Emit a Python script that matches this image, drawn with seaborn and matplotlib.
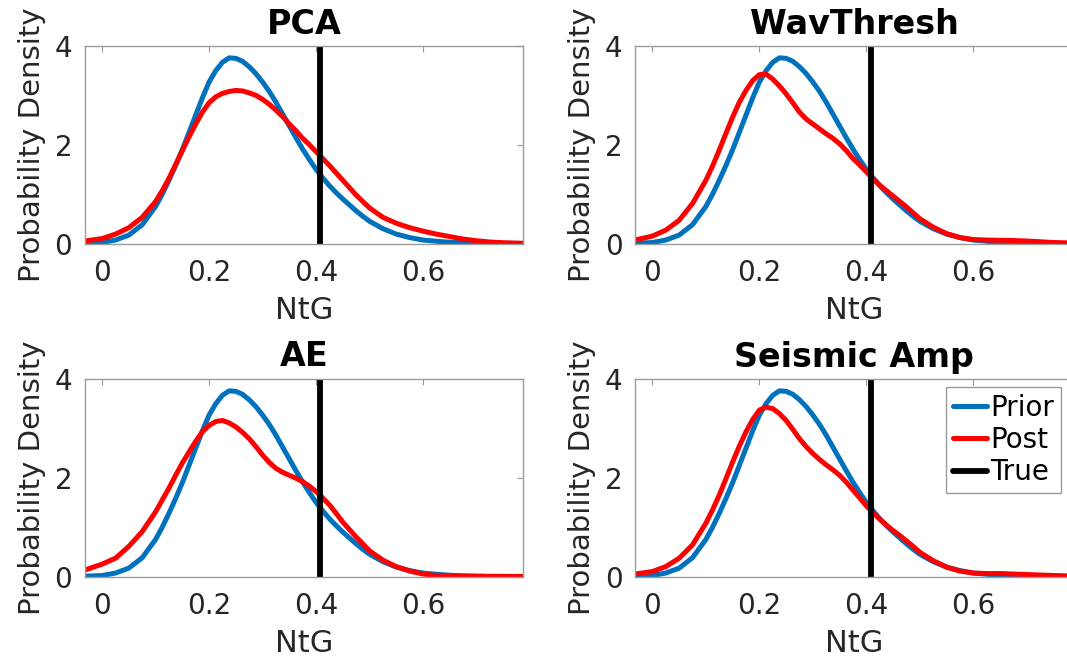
import matplotlib
matplotlib.use("Agg")
import matplotlib.pyplot as plt
import seaborn as sns
import pandas as pd

# ---------------- data ----------------
ntg_grid = [-0.0325, 0.0, 0.025, 0.05, 0.075,
            0.1, 0.1125, 0.125, 0.1375, 0.15, 0.1625, 0.175, 0.1875, 0.2,
            0.2125, 0.225, 0.2375, 0.25, 0.2625, 0.275, 0.2875, 0.3, 0.3125,
            0.325, 0.3375, 0.35, 0.3625, 0.375, 0.3875, 0.4, 0.4125, 0.425,
            0.4375, 0.45, 0.4625, 0.475, 0.4875, 0.5,
            0.525, 0.55, 0.575, 0.6, 0.625, 0.65, 0.675, 0.7, 0.725, 0.75,
            0.7868]

prior_density = [0.005, 0.02, 0.07, 0.17, 0.38,
                 0.75, 1.00, 1.28, 1.58, 1.90, 2.25, 2.60, 2.95, 3.27,
                 3.50, 3.67, 3.76, 3.75, 3.69, 3.58, 3.44, 3.27, 3.08,
                 2.86, 2.62, 2.38, 2.14, 1.91, 1.70, 1.50, 1.33, 1.17,
                 1.03, 0.90, 0.78, 0.66, 0.55, 0.45,
                 0.30, 0.19, 0.12, 0.07, 0.045, 0.025, 0.015, 0.01, 0.005, 0.003,
                 0.0]

post_pca = [0.05, 0.10, 0.19, 0.32, 0.53,
            0.85, 1.07, 1.32, 1.60, 1.88, 2.16, 2.42, 2.66, 2.85,
            2.97, 3.04, 3.08, 3.10, 3.09, 3.05, 3.00, 2.92, 2.82,
            2.70, 2.57, 2.42, 2.28, 2.13, 2.00, 1.86, 1.72, 1.58,
            1.43, 1.28, 1.13, 0.98, 0.85, 0.72,
            0.53, 0.41, 0.32, 0.25, 0.19, 0.14, 0.09, 0.055, 0.03, 0.015,
            0.005]

post_wavthresh = [0.07, 0.15, 0.27, 0.47, 0.81,
                  1.28, 1.57, 1.89, 2.23, 2.56, 2.86, 3.10, 3.30, 3.42,
                  3.43, 3.33, 3.19, 3.03, 2.85, 2.66, 2.52, 2.42, 2.32,
                  2.22, 2.13, 2.02, 1.88, 1.72, 1.59, 1.45, 1.31, 1.18,
                  1.07, 0.96, 0.85, 0.74, 0.62, 0.50,
                  0.33, 0.20, 0.12, 0.08, 0.07, 0.065, 0.06, 0.05, 0.035, 0.02,
                  0.01]

post_ae = [0.13, 0.25, 0.37, 0.61, 0.91,
           1.31, 1.55, 1.79, 2.05, 2.30, 2.52, 2.74, 2.93, 3.06,
           3.14, 3.16, 3.11, 3.03, 2.92, 2.79, 2.63, 2.46, 2.31,
           2.19, 2.11, 2.05, 1.99, 1.92, 1.83, 1.72, 1.59, 1.45,
           1.28, 1.10, 0.95, 0.80, 0.66, 0.52,
           0.33, 0.20, 0.11, 0.05, 0.02, 0.01, 0.005, 0.0, 0.0, 0.0,
           0.0]

post_seismic = [0.05, 0.10, 0.20, 0.37, 0.64,
                1.08, 1.35, 1.65, 1.98, 2.32, 2.64, 2.93, 3.18, 3.37,
                3.43, 3.40, 3.30, 3.16, 2.98, 2.79, 2.63, 2.49, 2.37,
                2.26, 2.16, 2.05, 1.91, 1.75, 1.59, 1.43, 1.29, 1.16,
                1.04, 0.93, 0.83, 0.72, 0.61, 0.49,
                0.32, 0.19, 0.11, 0.07, 0.06, 0.06, 0.05, 0.04, 0.03, 0.02,
                0.01]

true_ntg = 0.408

panel_titles = ["PCA", "WavThresh", "AE", "Seismic Amp"]
panel_posts = [post_pca, post_wavthresh, post_ae, post_seismic]
series_labels = ["Prior", "Post", "True"]
x_ticks = [0, 0.2, 0.4, 0.6]
x_tick_labels = ["0", "0.2", "0.4", "0.6"]
y_ticks = [0, 2, 4]
y_tick_labels = ["0", "2", "4"]
x_label = "NtG"
y_label = "Probability Density"

# ---------------- style ----------------
sns.set_theme(style="white")
plt.rcParams["font.family"] = ["DejaVu Sans"]

BLUE = "#0072BD"
RED = "#FF0000"
SPINE = "#9a9a9a"
TXT = "#262626"

fig = plt.figure(figsize=(10.67, 6.61), dpi=100)
W, H = 1067.0, 661.0
ax_w = 438.3 / W
ax_h = 197.5 / H
positions = [
    (84.7 / W, 1 - 243.5 / H),
    (635.0 / W, 1 - 243.5 / H),
    (84.7 / W, 1 - 576.5 / H),
    (635.0 / W, 1 - 576.5 / H),
]

line_kw = dict(linewidth=3.6, solid_joinstyle="round", solid_capstyle="round")

axes = []
for (l, b), title, post in zip(positions, panel_titles, panel_posts):
    ax = fig.add_axes([l, b, ax_w, ax_h])
    df = pd.DataFrame({"ntg": ntg_grid, "prior": prior_density, "post": post})
    sns.lineplot(data=df, x="ntg", y="prior", ax=ax, color=BLUE,
                 label=series_labels[0], **line_kw)
    sns.lineplot(data=df, x="ntg", y="post", ax=ax, color=RED,
                 label=series_labels[1], **line_kw)
    ax.axvline(true_ntg, color="black", linewidth=4.2, label=series_labels[2])
    if ax.get_legend() is not None:
        ax.get_legend().remove()

    ax.set_xlim(-0.0325, 0.7868)
    ax.set_ylim(0, 4)
    ax.set_xticks(x_ticks)
    ax.set_xticklabels(x_tick_labels)
    ax.set_yticks(y_ticks)
    ax.set_yticklabels(y_tick_labels)
    ax.tick_params(axis="both", which="both", direction="in", length=4,
                   width=0.8, color=SPINE, labelcolor=TXT, labelsize=20,
                   top=True, right=True)
    ax.tick_params(axis="x", pad=11)
    ax.tick_params(axis="y", pad=9)
    for s in ax.spines.values():
        s.set_color(SPINE)
        s.set_linewidth(1.0)
        s.set_visible(True)

    ax.set_xlabel(x_label, fontsize=22, color=TXT, va="center")
    ax.set_ylabel(y_label, fontsize=21, color=TXT)
    ax.xaxis.set_label_coords(0.5, -0.337)
    ax.yaxis.set_label_coords(-0.088, 0.5)
    ax.set_title(title, fontsize=24, fontweight="bold", color="black", pad=9)
    axes.append(ax)

# legend on the last panel
ax = axes[3]
handles, labels = ax.get_legend_handles_labels()
leg = ax.legend(handles, labels, loc="upper right",
                bbox_to_anchor=(1061 / W, 1 - 387 / H),
                bbox_transform=fig.transFigure, borderaxespad=0,
                fontsize=20, frameon=True, fancybox=False, framealpha=1,
                edgecolor=SPINE, handlelength=1.25, handletextpad=0.1,
                labelspacing=0.15, borderpad=0.25)
leg.get_frame().set_linewidth(1.0)
for t in leg.get_texts():
    t.set_color("black")

fig.savefig("out.png", dpi=100)
